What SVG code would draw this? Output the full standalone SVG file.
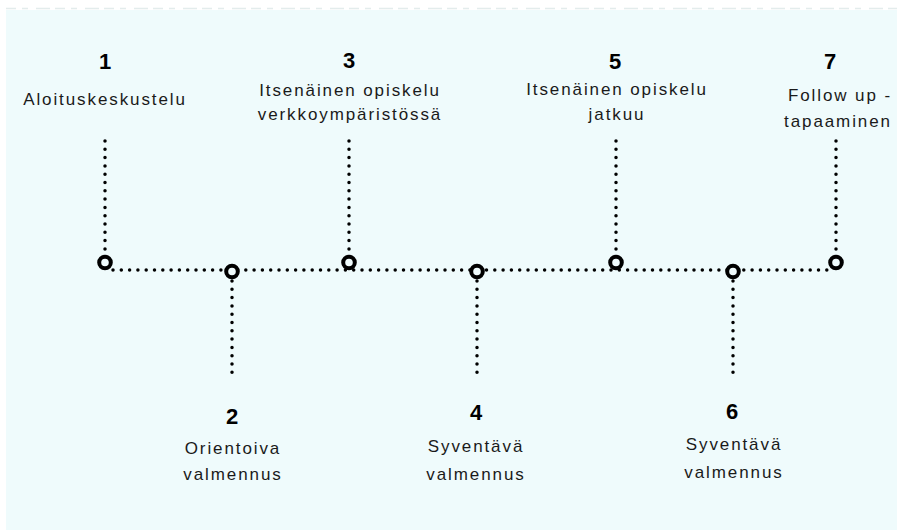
<svg xmlns="http://www.w3.org/2000/svg" width="897" height="530" viewBox="0 0 897 530">
<style>
.num{font-family:"Liberation Sans",Arial,sans-serif;font-weight:bold;font-size:22px;fill:#000;text-anchor:middle}
.lbl{font-family:"Liberation Sans",Arial,sans-serif;font-size:17px;letter-spacing:1.9px;fill:#1a1a1a;text-anchor:middle}
.dot{fill:none;stroke:#000;stroke-width:3.5;stroke-linecap:round;stroke-dasharray:0 8.3}
.ring{fill:#effbfc;stroke:#000;stroke-width:4}
</style>
<rect x="0" y="0" width="897" height="530" fill="#ffffff"/>
<rect x="6" y="10" width="891" height="520" fill="#effbfc"/>
<line x1="6" y1="8.5" x2="897" y2="8.5" stroke="#e3ecec" stroke-width="1.5" stroke-dasharray="10 6 6 8 14 5"/>
<g id="connectors">
<line class="dot" x1="113" y1="270" x2="830" y2="270"/>
<line class="dot" x1="105" y1="141" x2="105" y2="250"/>
<line class="dot" x1="349" y1="141" x2="349" y2="250"/>
<line class="dot" x1="616" y1="141" x2="616" y2="250"/>
<line class="dot" x1="836" y1="141" x2="836" y2="250"/>
<line class="dot" x1="232" y1="281" x2="232" y2="380"/>
<line class="dot" x1="477" y1="281" x2="477" y2="380"/>
<line class="dot" x1="733" y1="281" x2="733" y2="380"/>
</g>
<g id="node1">
<circle class="ring" cx="105" cy="262.5" r="5.8"/>
<text class="num" x="105" y="69">1</text>
<text class="lbl" x="105" y="105">Aloituskeskustelu</text>
</g>
<g id="node2">
<circle class="ring" cx="232" cy="271.5" r="5.8"/>
<text class="num" x="232" y="424">2</text>
<text class="lbl" x="233" y="454">Orientoiva</text>
<text class="lbl" x="233" y="480">valmennus</text>
</g>
<g id="node3">
<circle class="ring" cx="349" cy="262.5" r="5.8"/>
<text class="num" x="349" y="68">3</text>
<text class="lbl" x="350" y="96">Itsenäinen opiskelu</text>
<text class="lbl" x="350" y="120">verkkoympäristössä</text>
</g>
<g id="node4">
<circle class="ring" cx="477" cy="271.5" r="5.8"/>
<text class="num" x="476" y="420">4</text>
<text class="lbl" x="476" y="452">Syventävä</text>
<text class="lbl" x="476" y="480">valmennus</text>
</g>
<g id="node5">
<circle class="ring" cx="616" cy="262.5" r="5.8"/>
<text class="num" x="615" y="69">5</text>
<text class="lbl" x="617" y="95">Itsenäinen opiskelu</text>
<text class="lbl" x="617" y="120">jatkuu</text>
</g>
<g id="node6">
<circle class="ring" cx="733" cy="271.5" r="5.8"/>
<text class="num" x="732" y="419">6</text>
<text class="lbl" x="734" y="450">Syventävä</text>
<text class="lbl" x="734" y="478">valmennus</text>
</g>
<g id="node7">
<circle class="ring" cx="836" cy="262.5" r="5.8"/>
<text class="num" x="830" y="69">7</text>
<text class="lbl" x="840" y="101">Follow up -</text>
<text class="lbl" x="838" y="127">tapaaminen</text>
</g>
</svg>
